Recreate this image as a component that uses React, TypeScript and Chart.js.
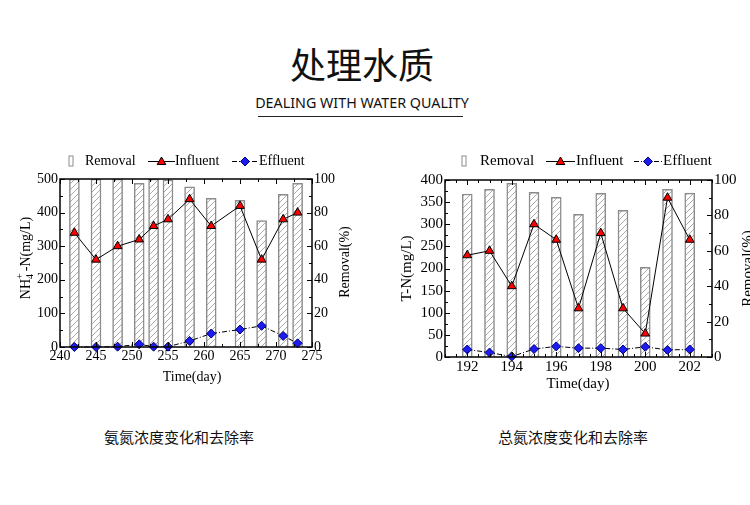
import React, { useEffect, useRef } from 'react';
import { Chart, registerables } from 'chart.js';

Chart.register(...registerables);

// ---------- data: NH4+-N chart ----------
const nhDays = [242, 245, 248, 251, 253, 255, 258, 261, 265, 268, 271, 273];
const nhInfluent = [340, 260, 300, 320, 360, 380, 440, 360, 420, 260, 380, 400];
const nhEffluent = [0, 0, 1, 8, 1, 1, 18, 40, 52, 63, 33, 11];
const nhRemoval = [100, 100, 100, 97.4, 100, 99.4, 95.4, 88.5, 87.3, 75.3, 90.9, 97.4];
const nhXTicks = [240, 245, 250, 255, 260, 265, 270, 275];
const nhYTicks = [0, 100, 200, 300, 400, 500];

// ---------- data: T-N chart ----------
const tnDays = [192, 193, 194, 195, 196, 197, 198, 199, 200, 201, 202];
const tnInfluent = [230, 240, 160, 300, 265, 110, 280, 110, 53, 360, 265];
const tnEffluent = [17, 10, 1, 18, 24, 20, 20, 17, 23, 16, 17];
const tnRemoval = [92.1, 94.7, 98.1, 93, 90.2, 80.6, 92.5, 82.8, 50.6, 94.7, 92.6];
const tnXTicks = [192, 194, 196, 198, 200, 202];
const tnYTicks = [0, 50, 100, 150, 200, 250, 300, 350, 400];

const removalTicks = [0, 20, 40, 60, 80, 100];

const titleText = '处理水质';
const subtitleText = 'DEALING WITH WATER QUALITY';
const captionLeft = '氨氮浓度变化和去除率';
const captionRight = '总氮浓度变化和去除率';

const SERIF = '"Liberation Serif", "Times New Roman", serif';
const CJK = '"Noto Sans CJK SC", "Noto Sans", sans-serif';

function range(a: number, b: number, s: number) {
  const r: number[] = [];
  for (let v = a; v <= b + 1e-9; v += s) r.push(+v.toFixed(6));
  return r;
}

function makeHatch() {
  const c = document.createElement('canvas');
  c.width = 6;
  c.height = 6;
  const g = c.getContext('2d')!;
  g.fillStyle = '#fff';
  g.fillRect(0, 0, 6, 6);
  g.strokeStyle = '#a0a0a0';
  g.lineWidth = 0.9;
  g.beginPath();
  g.moveTo(0, 6);
  g.lineTo(6, 0);
  g.moveTo(-1, 1);
  g.lineTo(1, -1);
  g.moveTo(5, 7);
  g.lineTo(7, 5);
  g.stroke();
  return g.createPattern(c, 'repeat')!;
}

type Cfg = {
  days: number[];
  influent: number[];
  effluent: number[];
  removal: number[];
  xMin: number;
  xMax: number;
  xTicks: number[];
  xMinor: number;
  yMax: number;
  yTicks: number[];
  yMinor: number;
  fontSize: number;
  width: number;
  height: number;
  area: { left: number; right: number; top: number; bottom: number };
  leftTitle: string;
  leftTitlePos: [number, number];
  rightTitlePos: [number, number];
  xTitlePos: [number, number];
  legend: {
    y: number;
    icon: number;
    removalText: number;
    infLine: [number, number];
    infText: number;
    effLine: [number, number];
    effText: number;
  };
};

function triangle(ctx: CanvasRenderingContext2D, x: number, y: number, r: number) {
  ctx.beginPath();
  ctx.moveTo(x, y - r);
  ctx.lineTo(x + 0.866 * r, y + 0.5 * r);
  ctx.lineTo(x - 0.866 * r, y + 0.5 * r);
  ctx.closePath();
  ctx.fillStyle = '#ff0000';
  ctx.fill();
  ctx.strokeStyle = '#000';
  ctx.lineWidth = 1;
  ctx.stroke();
}

function diamond(ctx: CanvasRenderingContext2D, x: number, y: number, r: number) {
  ctx.beginPath();
  ctx.moveTo(x, y - r);
  ctx.lineTo(x + r, y);
  ctx.lineTo(x, y + r);
  ctx.lineTo(x - r, y);
  ctx.closePath();
  ctx.fillStyle = '#1c1cf0';
  ctx.fill();
  ctx.strokeStyle = '#00007a';
  ctx.lineWidth = 1;
  ctx.stroke();
}

function makeDecor(cfg: Cfg) {
  return {
    id: 'decor',
    afterDraw(chart: any) {
      const ctx: CanvasRenderingContext2D = chart.ctx;
      const a = chart.chartArea;
      const sx = chart.scales.x;
      const sy = chart.scales.y;
      const sr = chart.scales.y1;
      const fs = cfg.fontSize;
      const font = `${fs}px ${SERIF}`;
      const isIn = (list: number[], v: number) => list.some((t) => Math.abs(t - v) < 1e-6);
      ctx.save();
      ctx.strokeStyle = '#000';
      ctx.lineWidth = 1;
      ctx.beginPath();
      // x ticks (top & bottom, inward)
      for (const v of range(cfg.xMin, cfg.xMax, cfg.xMinor)) {
        const px = Math.round(sx.getPixelForValue(v)) + 0.5;
        const len = isIn(cfg.xTicks, v) ? 5 : 3;
        ctx.moveTo(px, a.bottom);
        ctx.lineTo(px, a.bottom - len);
        ctx.moveTo(px, a.top);
        ctx.lineTo(px, a.top + len);
      }
      // left y ticks
      for (const v of range(0, cfg.yMax, cfg.yMinor)) {
        const py = Math.round(sy.getPixelForValue(v)) + 0.5;
        const len = isIn(cfg.yTicks, v) ? 5 : 3;
        ctx.moveTo(a.left, py);
        ctx.lineTo(a.left + len, py);
      }
      // right y ticks
      for (const v of range(0, 100, 10)) {
        const py = Math.round(sr.getPixelForValue(v)) + 0.5;
        const len = isIn(removalTicks, v) ? 5 : 3;
        ctx.moveTo(a.right, py);
        ctx.lineTo(a.right - len, py);
      }
      ctx.stroke();
      ctx.lineWidth = 1.5;
      ctx.strokeRect(a.left, a.top, a.right - a.left, a.bottom - a.top);

      // titles
      ctx.fillStyle = '#000';
      ctx.font = font;
      ctx.textAlign = 'center';
      ctx.textBaseline = 'middle';
      ctx.fillText('Time(day)', cfg.xTitlePos[0], cfg.xTitlePos[1]);

      const rot = (text: string, x: number, y: number) => {
        ctx.save();
        ctx.translate(x, y);
        ctx.rotate(-Math.PI / 2);
        ctx.font = font;
        ctx.textAlign = 'center';
        ctx.textBaseline = 'middle';
        ctx.fillText(text, 0, 0);
        ctx.restore();
      };
      rot('Removal(%)', cfg.rightTitlePos[0], cfg.rightTitlePos[1]);

      if (cfg.leftTitle === 'NH4') {
        ctx.save();
        ctx.translate(cfg.leftTitlePos[0], cfg.leftTitlePos[1]);
        ctx.rotate(-Math.PI / 2);
        const big = font;
        const small = `${Math.round(fs * 0.72)}px ${SERIF}`;
        ctx.font = big;
        const w1 = ctx.measureText('NH').width;
        const w3 = ctx.measureText('-N(mg/L)').width;
        ctx.font = small;
        const w2 = Math.max(ctx.measureText('4').width, ctx.measureText('+').width) + 2;
        const total = w1 + w2 + w3;
        let cx = -total / 2;
        const base = fs * 0.35;
        ctx.textAlign = 'left';
        ctx.textBaseline = 'alphabetic';
        ctx.font = big;
        ctx.fillText('NH', cx, base);
        cx += w1;
        ctx.font = small;
        ctx.fillText('4', cx, base + fs * 0.22);
        ctx.fillText('+', cx, base - fs * 0.5);
        cx += w2;
        ctx.font = big;
        ctx.fillText('-N(mg/L)', cx, base);
        ctx.restore();
      } else {
        rot(cfg.leftTitle, cfg.leftTitlePos[0], cfg.leftTitlePos[1]);
      }

      // legend
      const L = cfg.legend;
      ctx.lineWidth = 1;
      ctx.strokeStyle = '#8c8c8c';
      ctx.fillStyle = '#fff';
      ctx.fillRect(L.icon - 2, L.y - 5, 4, 10);
      ctx.strokeRect(L.icon - 2, L.y - 5, 4, 10);
      ctx.fillStyle = '#000';
      ctx.font = font;
      ctx.textAlign = 'left';
      ctx.textBaseline = 'middle';
      ctx.fillText('Removal', L.removalText, L.y);
      ctx.fillText('Influent', L.infText, L.y);
      ctx.fillText('Effluent', L.effText, L.y);
      ctx.strokeStyle = '#000';
      ctx.beginPath();
      ctx.moveTo(L.infLine[0], L.y + 0.5);
      ctx.lineTo(L.infLine[1], L.y + 0.5);
      ctx.stroke();
      ctx.setLineDash([5, 2, 1, 2]);
      ctx.beginPath();
      ctx.moveTo(L.effLine[0], L.y + 0.5);
      ctx.lineTo(L.effLine[1], L.y + 0.5);
      ctx.stroke();
      ctx.setLineDash([]);
      triangle(ctx, (L.infLine[0] + L.infLine[1]) / 2, L.y + 1, 5);
      diamond(ctx, (L.effLine[0] + L.effLine[1]) / 2, L.y + 0.5, 4.5);
      ctx.restore();
    },
  };
}

function Panel({ cfg, left, top }: { cfg: Cfg; left: number; top: number }) {
  const ref = useRef<HTMLCanvasElement>(null);
  useEffect(() => {
    const canvas = ref.current!;
    const hatch = makeHatch();
    const font = { family: SERIF, size: cfg.fontSize };
    const chart = new Chart(canvas, {
      type: 'bar',
      data: {
        datasets: [
          {
            type: 'line',
            label: 'Influent',
            data: cfg.days.map((d, i) => ({ x: d, y: cfg.influent[i] })),
            yAxisID: 'y',
            borderColor: '#000',
            borderWidth: 1,
            pointStyle: 'triangle',
            pointRadius: 5,
            pointBackgroundColor: '#ff0000',
            pointBorderColor: '#000',
            pointBorderWidth: 1,
            tension: 0,
            clip: false,
            order: 1,
          } as any,
          {
            type: 'line',
            label: 'Effluent',
            data: cfg.days.map((d, i) => ({ x: d, y: cfg.effluent[i] })),
            yAxisID: 'y',
            borderColor: '#000',
            borderWidth: 1,
            borderDash: [5, 2, 1, 2],
            pointStyle: 'rectRot',
            pointRadius: 4.5,
            pointBackgroundColor: '#1c1cf0',
            pointBorderColor: '#00007a',
            pointBorderWidth: 1,
            tension: 0,
            clip: false,
            order: 2,
          } as any,
          {
            type: 'bar',
            label: 'Removal',
            data: cfg.days.map((d, i) => ({ x: d, y: cfg.removal[i] })),
            yAxisID: 'y1',
            backgroundColor: hatch as any,
            borderColor: '#8c8c8c',
            borderWidth: 1.5,
            barThickness: 10,
            order: 3,
          } as any,
        ],
      },
      options: {
        responsive: false,
        maintainAspectRatio: false,
        animation: false,
        layout: { padding: { top: cfg.area.top, left: 0, right: 0, bottom: 0 } },
        plugins: { legend: { display: false }, tooltip: { enabled: false } },
        scales: {
          x: {
            type: 'linear',
            position: 'bottom',
            min: cfg.xMin,
            max: cfg.xMax,
            offset: false,
            grid: { display: false, drawTicks: false },
            border: { display: false },
            ticks: { font, color: '#000', padding: 1, maxRotation: 0, autoSkip: false },
            afterBuildTicks: (ax: any) => {
              ax.ticks = cfg.xTicks.map((v) => ({ value: v }));
            },
            afterFit: (ax: any) => {
              ax.height = cfg.height - cfg.area.bottom;
            },
          },
          y: {
            type: 'linear',
            position: 'left',
            min: 0,
            max: cfg.yMax,
            grid: { display: false, drawTicks: false },
            border: { display: false },
            ticks: { font, color: '#000', padding: 2 },
            afterBuildTicks: (ax: any) => {
              ax.ticks = cfg.yTicks.map((v) => ({ value: v }));
            },
            afterFit: (ax: any) => {
              ax.width = cfg.area.left;
            },
          },
          y1: {
            type: 'linear',
            position: 'right',
            min: 0,
            max: 100,
            grid: { display: false, drawTicks: false },
            border: { display: false },
            ticks: { font, color: '#000', padding: 2 },
            afterBuildTicks: (ax: any) => {
              ax.ticks = removalTicks.map((v) => ({ value: v }));
            },
            afterFit: (ax: any) => {
              ax.width = cfg.width - cfg.area.right;
            },
          },
        },
      } as any,
      plugins: [makeDecor(cfg) as any],
    });
    return () => chart.destroy();
  }, []);
  return (
    <canvas
      ref={ref}
      width={cfg.width}
      height={cfg.height}
      style={{ position: 'absolute', left, top, width: cfg.width, height: cfg.height }}
    />
  );
}

const nhCfg: Cfg = {
  days: nhDays,
  influent: nhInfluent,
  effluent: nhEffluent,
  removal: nhRemoval,
  xMin: 240,
  xMax: 275,
  xTicks: nhXTicks,
  xMinor: 2.5,
  yMax: 500,
  yTicks: nhYTicks,
  yMinor: 50,
  fontSize: 14,
  width: 375,
  height: 250,
  area: { left: 60, right: 312, top: 39, bottom: 207 },
  leftTitle: 'NH4',
  leftTitlePos: [25, 118],
  rightTitlePos: [345, 122],
  xTitlePos: [192, 237],
  legend: {
    y: 21,
    icon: 71,
    removalText: 85,
    infLine: [148, 175],
    infText: 175,
    effLine: [232, 258],
    effText: 259,
  },
};

const tnCfg: Cfg = {
  days: tnDays,
  influent: tnInfluent,
  effluent: tnEffluent,
  removal: tnRemoval,
  xMin: 191,
  xMax: 203,
  xTicks: tnXTicks,
  xMinor: 0.5,
  yMax: 400,
  yTicks: tnYTicks,
  yMinor: 25,
  fontSize: 15,
  width: 375,
  height: 260,
  area: { left: 70, right: 337, top: 40, bottom: 217 },
  leftTitle: 'T-N(mg/L)',
  leftTitlePos: [32.5, 128.5],
  rightTitlePos: [373, 128.5],
  xTitlePos: [203, 244],
  legend: {
    y: 21,
    icon: 89,
    removalText: 105,
    infLine: [171, 200],
    infText: 201,
    effLine: [259, 287],
    effText: 288,
  },
};

export default function App() {
  return (
    <div
      style={{
        position: 'absolute',
        left: 0,
        top: 0,
        width: 750,
        height: 505,
        background: '#fff',
        overflow: 'hidden',
      }}
    >
      <div
        style={{
          position: 'absolute',
          left: 262,
          top: 45,
          width: 200,
          textAlign: 'center',
          fontFamily: CJK,
          fontSize: 36,
          lineHeight: '36px',
          color: '#111',
          whiteSpace: 'nowrap',
        }}
      >
        {titleText}
      </div>
      <div
        style={{
          position: 'absolute',
          left: 212,
          top: 95,
          width: 300,
          textAlign: 'center',
          fontFamily: '"Noto Sans", sans-serif',
          fontSize: 14.3,
          lineHeight: '15px',
          color: '#111',
          whiteSpace: 'nowrap',
        }}
      >
        {subtitleText}
      </div>
      <div
        style={{
          position: 'absolute',
          left: 258,
          top: 116,
          width: 205,
          height: 1,
          background: '#222',
        }}
      />
      <Panel cfg={nhCfg} left={0} top={140} />
      <Panel cfg={tnCfg} left={375} top={140} />
      <div
        style={{
          position: 'absolute',
          left: 79,
          top: 429,
          width: 200,
          textAlign: 'center',
          fontFamily: CJK,
          fontSize: 15,
          lineHeight: '15px',
          color: '#111',
          whiteSpace: 'nowrap',
        }}
      >
        {captionLeft}
      </div>
      <div
        style={{
          position: 'absolute',
          left: 473,
          top: 429,
          width: 200,
          textAlign: 'center',
          fontFamily: CJK,
          fontSize: 15,
          lineHeight: '15px',
          color: '#111',
          whiteSpace: 'nowrap',
        }}
      >
        {captionRight}
      </div>
    </div>
  );
}
